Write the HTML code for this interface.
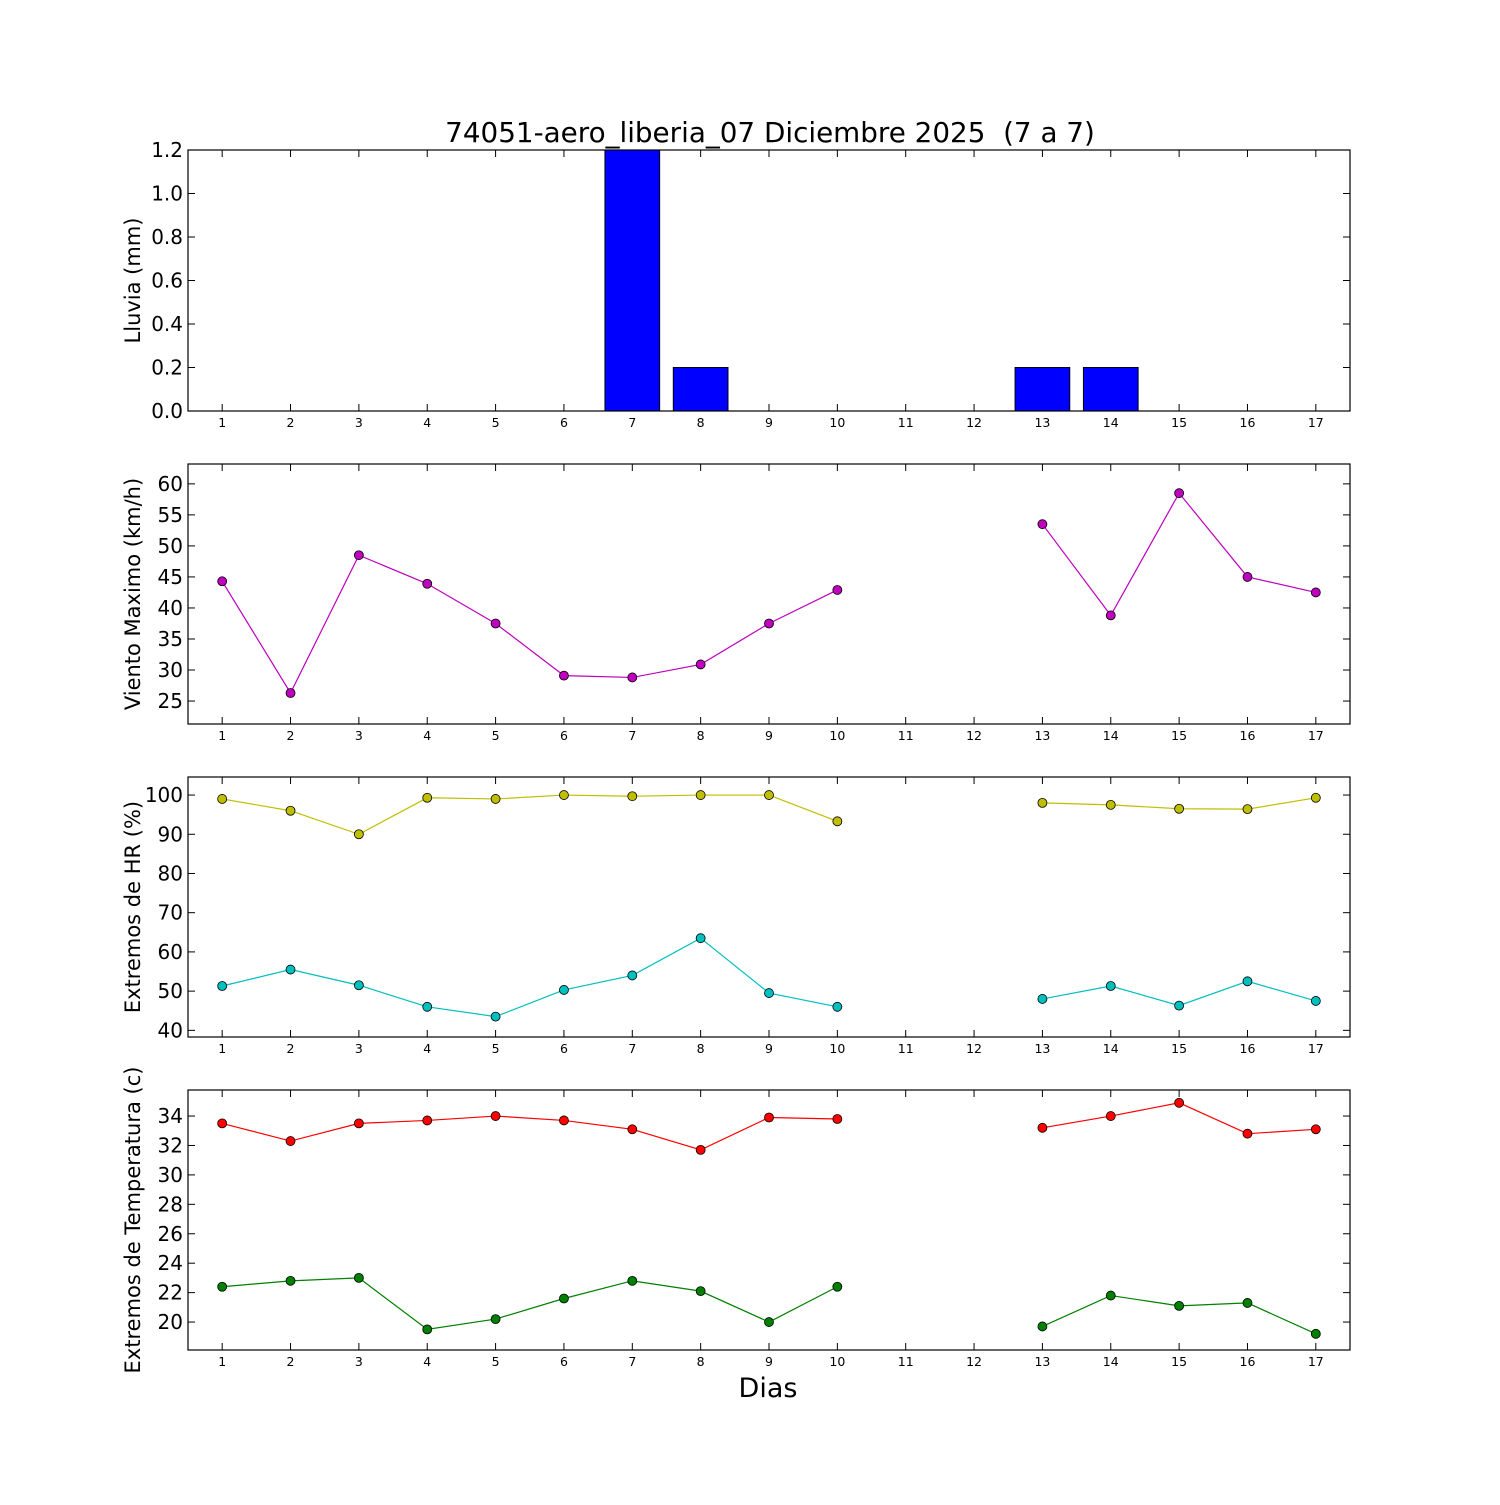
<!DOCTYPE html>
<html><head><meta charset="utf-8"><style>
body{margin:0;background:#fff}
svg text{font-family:"DejaVu Sans","Liberation Sans",sans-serif;white-space:pre}
</style></head><body>
<svg id="c" width="1500" height="1500" xmlns="http://www.w3.org/2000/svg">
<rect width="1500" height="1500" fill="#fff"/>
<text x="770" y="142" font-size="27.8" text-anchor="middle" xml:space="preserve">74051-aero_liberia_07 Diciembre 2025  (7 a 7)</text>
<text x="768" y="1397" font-size="27" text-anchor="middle">Dias</text>
</svg>
<script>
const days=[1,2,3,4,5,6,7,8,9,10,11,12,13,14,15,16,17];
const rain=[0,0,0,0,0,0,1.2,0.2,0,0,0,0,0.2,0.2,0,0,0];
const wind=[44.3,26.3,48.5,43.9,37.5,29.1,28.8,30.9,37.5,42.9,null,null,53.5,38.8,58.5,45,42.5];
const hrMax=[99,96,90,99.3,99,100,99.7,100,100,93.3,null,null,98,97.5,96.5,96.4,99.3];
const hrMin=[51.3,55.5,51.5,46,43.5,50.3,54,63.5,49.5,46,null,null,48,51.3,46.3,52.5,47.5];
const tMax=[33.5,32.3,33.5,33.7,34,33.7,33.1,31.7,33.9,33.8,null,null,33.2,34,34.9,32.8,33.1];
const tMin=[22.4,22.8,23,19.5,20.2,21.6,22.8,22.1,20,22.4,null,null,19.7,21.8,21.1,21.3,19.2];
const rainTicks=[0,0.2,0.4,0.6,0.8,1.0,1.2];
const windTicks=[25,30,35,40,45,50,55,60];
const hrTicks=[40,50,60,70,80,90,100];
const tTicks=[20,22,24,26,28,30,32,34];
const NS="http://www.w3.org/2000/svg",svg=document.getElementById('c');
const L=188,R=1350;
const xs=d=>L+(d-0.5)*(R-L)/17;
function el(t,a,p){const e=document.createElementNS(NS,t);for(const k in a)e.setAttribute(k,a[k]);(p||svg).appendChild(e);return e;}
function panel(name,top,bot,y0,y1,ticks,fmt,label){
 const g=el('g',{});
 
 
 const ys=v=>bot-(v-y0)/(y1-y0)*(bot-top);
 ticks.forEach(t=>{const y=ys(t);
  el('line',{x1:L,x2:L+7,y1:y,y2:y,stroke:'#000'},g);el('line',{x1:R-7,x2:R,y1:y,y2:y,stroke:'#000'},g);
  const tx=el('text',{x:L-5,y:y+7,'font-size':20,'text-anchor':'end'},g);tx.textContent=fmt(t);
  
  });
 days.forEach(d=>{const x=xs(d);
  el('line',{x1:x,x2:x,y1:bot,y2:bot-7,stroke:'#000'},g);el('line',{x1:x,x2:x,y1:top,y2:top+7,stroke:'#000'},g);
  const tx=el('text',{x:x,y:bot+16,'font-size':12.5,'text-anchor':'middle'},g);tx.textContent=d;
  
  });
 const cy=(top+bot)/2;
 const lb=el('text',{x:0,y:0,'font-size':21,'text-anchor':'middle',transform:`translate(140 ${cy}) rotate(-90)`},g);lb.textContent=label;
 
 
 return {g,ys,frame:()=>el('rect',{x:L,y:top,width:R-L,height:bot-top,fill:'none',stroke:'#000','stroke-width':1.2},g)};
}
function series(p,vals,color,name){
 let seg=[];const segs=[];
 vals.forEach((v,i)=>{if(v==null){if(seg.length)segs.push(seg);seg=[];}else seg.push([xs(days[i]),p.ys(v)]);});
 if(seg.length)segs.push(seg);
 segs.forEach(s=>{const pl=el('polyline',{points:s.map(q=>q.join(',')).join(' '),fill:'none',stroke:color,'stroke-width':1.2},p.g);
  
  });
 vals.forEach((v,i)=>{if(v==null)return;const c=el('circle',{cx:xs(days[i]),cy:p.ys(v),r:4.5,fill:color,stroke:'#000','stroke-width':0.8},p.g);
  
  });
}
const p1=panel('rain',150,411,0,1.2,rainTicks,t=>t.toFixed(1),'Lluvia (mm)');
const bw=0.8*(R-L)/17;
rain.forEach((v,i)=>{const y=p1.ys(v);const b=el('rect',{x:xs(days[i])-bw/2,y:y,width:bw,height:411-y,fill:'#0000ff',stroke:'#000','stroke-width':1},p1.g);
 
 });
p1.frame();
const p2=panel('wind',464,724,21.3,63.2,windTicks,t=>t,'Viento Maximo (km/h)');
series(p2,wind,'#bf00bf','wind');p2.frame();
const p3=panel('humidity',777,1037,38.3,104.6,hrTicks,t=>t,'Extremos de HR (%)');
series(p3,hrMax,'#bfbf00','hr-max');series(p3,hrMin,'#00bfbf','hr-min');p3.frame();
const p4=panel('temperature',1090,1350,18.1,35.77,tTicks,t=>t,'Extremos de Temperatura (c)');
series(p4,tMax,'#ff0000','temp-max');series(p4,tMin,'#008000','temp-min');p4.frame();
</script>
</body></html>
